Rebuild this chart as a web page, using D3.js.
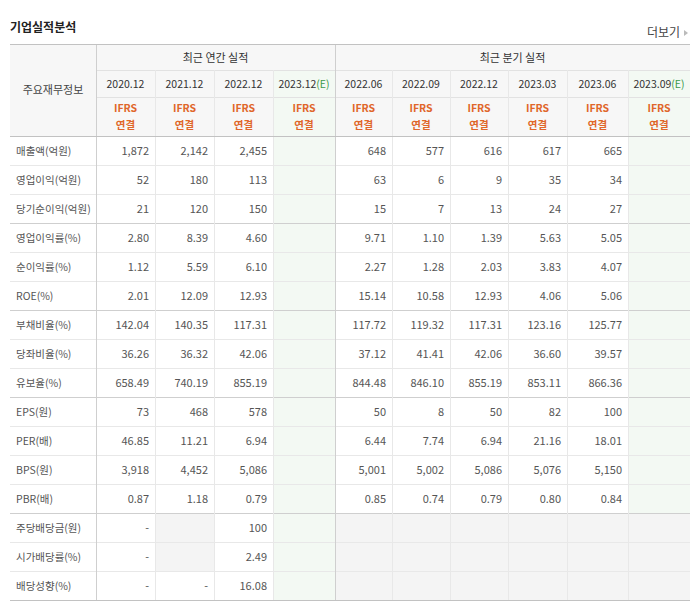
<!DOCTYPE html>
<html><head><meta charset="utf-8">
<script src="https://cdn.jsdelivr.net/npm/d3@7"></script>
<style>body{margin:0;background:#fff;font-family:"Noto Sans CJK KR","Noto Sans",sans-serif}</style>
</head><body><svg id="c" width="699" height="602"></svg>
<script>
const periods = ["2020.12","2021.12","2022.12","2023.12(E)","2022.06","2022.09","2022.12","2023.03","2023.06","2023.09(E)"];
const estimate = [false,false,false,true,false,false,false,false,false,true];
const rowLabels = ["매출액(억원)","영업이익(억원)","당기순이익(억원)","영업이익률(%)","순이익률(%)","ROE(%)","부채비율(%)","당좌비율(%)","유보율(%)","EPS(원)","PER(배)","BPS(원)","PBR(배)","주당배당금(원)","시가배당률(%)","배당성향(%)"];
const values = [
 ["1,872","2,142","2,455","","648","577","616","617","665",""],
 ["52","180","113","","63","6","9","35","34",""],
 ["21","120","150","","15","7","13","24","27",""],
 ["2.80","8.39","4.60","","9.71","1.10","1.39","5.63","5.05",""],
 ["1.12","5.59","6.10","","2.27","1.28","2.03","3.83","4.07",""],
 ["2.01","12.09","12.93","","15.14","10.58","12.93","4.06","5.06",""],
 ["142.04","140.35","117.31","","117.72","119.32","117.31","123.16","125.77",""],
 ["36.26","36.32","42.06","","37.12","41.41","42.06","36.60","39.57",""],
 ["658.49","740.19","855.19","","844.48","846.10","855.19","853.11","866.36",""],
 ["73","468","578","","50","8","50","82","100",""],
 ["46.85","11.21","6.94","","6.44","7.74","6.94","21.16","18.01",""],
 ["3,918","4,452","5,086","","5,001","5,002","5,086","5,076","5,150",""],
 ["0.87","1.18","0.79","","0.85","0.74","0.79","0.80","0.84",""],
 ["-",null,"100","",null,null,null,null,null,null],
 ["-",null,"2.49","",null,null,null,null,null,null],
 ["-","-","16.08","",null,null,null,null,null,null]
];
const groups = ["최근 연간 실적","최근 분기 실적"];
const groupBreaks = [2,5,8,12];

const svg = d3.select("#c");
const colEdges = [10,96,155,214,273,335,392,450,508,567,628,690];
const x = i => colEdges[i+1];
const w = i => colEdges[i+2]-colEdges[i+1];
const yRow = d3.scaleLinear().domain([0,16]).range([136,600]);
const rh = yRow(1)-yRow(0);
const txt = "#555";

svg.append("text").attr("x",10).attr("y",32).attr("font-size",12).attr("font-weight","bold").attr("fill","#222").text("기업실적분석");
svg.append("text").attr("x",680).attr("y",37).attr("font-size",12).attr("text-anchor","end").attr("fill","#444").text("더보기");
svg.append("path").attr("d","M684,30 l4,3 l-4,3z").attr("fill","#bbb");

svg.append("rect").attr("x",10).attr("y",44).attr("width",680).attr("height",92).attr("fill","#f7f7f7");
periods.forEach((p,i)=>{ if(estimate[i]) svg.append("rect").attr("x",x(i)).attr("y",70).attr("width",w(i)).attr("height",530).attr("fill","#f3f9f3"); });
values.forEach((r,ri)=>r.forEach((v,ci)=>{ if(v===null) svg.append("rect").attr("x",x(ci)).attr("y",yRow(ri)).attr("width",w(ci)).attr("height",rh).attr("fill","#f4f4f4"); }));

svg.append("text").attr("x",53).attr("y",94).attr("text-anchor","middle").attr("font-size",11).attr("fill","#444").text("주요재무정보");
[[0,4],[4,10]].forEach(([a,b],g)=>{
  svg.append("text").attr("x",(x(a)+colEdges[b+1])/2).attr("y",62).attr("text-anchor","middle").attr("font-size",11).attr("fill","#333").text(groups[g]);
});
periods.forEach((p,i)=>{
  const cx = x(i)+w(i)/2;
  const t = svg.append("text").attr("x",cx).attr("y",88).attr("text-anchor","middle").attr("font-size",10.5).attr("fill","#333");
  if(estimate[i]){ t.text(p.replace("(E)","")); t.append("tspan").attr("fill","#3a9a4a").text("(E)"); } else t.text(p);
  svg.append("text").attr("x",cx).attr("y",112).attr("text-anchor","middle").attr("font-size",10.5).attr("font-weight","bold").attr("fill","#e0662a").text("IFRS");
  svg.append("text").attr("x",cx).attr("y",129).attr("text-anchor","middle").attr("font-size",10.5).attr("font-weight","bold").attr("fill","#e0662a").text("연결");
});

rowLabels.forEach((l,ri)=>{
  const cy = yRow(ri)+rh/2+4;
  svg.append("text").attr("x",16).attr("y",cy).attr("font-size",10.5).attr("fill",txt).text(l);
  values[ri].forEach((v,ci)=>{ if(v) svg.append("text").attr("x",colEdges[ci+2]-6).attr("y",cy).attr("text-anchor","end").attr("font-size",11).attr("fill",txt).text(v); });
});

const line=(x1,y1,x2,y2,c)=>svg.append("line").attr("x1",x1).attr("y1",y1).attr("x2",x2).attr("y2",y2).attr("stroke",c).attr("stroke-width",1).attr("shape-rendering","crispEdges");
line(96,70,690,70,"#e2e2e2"); line(96,97,690,97,"#e2e2e2");
for(let r=1;r<16;r++) line(10,yRow(r),690,yRow(r), groupBreaks.includes(r-1)?"#cfcfcf":"#e8e8e8");
colEdges.slice(2,-1).forEach(cx=>{ const c = (cx===335)?"#cfcfcf":"#e8e8e8"; line(cx,(cx===335)?44:70,cx,600,c); });
line(96,44,96,600,"#cfcfcf");
line(10,44,690,44,"#c2c2c2"); line(10,136,690,136,"#c2c2c2"); line(10,600,690,600,"#c2c2c2");
</script></body></html>
